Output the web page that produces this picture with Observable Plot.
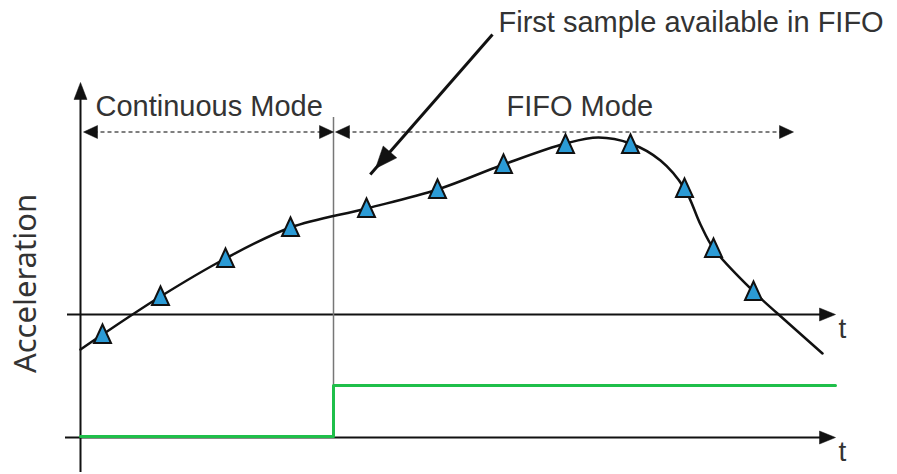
<!DOCTYPE html>
<html>
<head>
<meta charset="utf-8">
<script src="https://cdn.jsdelivr.net/npm/d3@7"></script>
<script src="https://cdn.jsdelivr.net/npm/@observablehq/plot@0.6"></script>
<style>
  html, body { margin: 0; padding: 0; background: #fff; }
  #chart svg { display: block; }
</style>
</head>
<body>
<div id="chart"></div>
<script>
// ---- Data (t: time units, a: acceleration units; t-axis at a = 0) ----
const sampleT = [2.2, 8.0, 14.5, 21.0, 28.6, 35.7, 42.3, 48.5, 55.0, 60.4, 63.3, 67.3];
const sampleA = [-2.2, 1.6, 5.4, 8.5, 10.4, 12.3, 14.8, 16.8, 16.8, 12.4, 6.4, 2.1];

const curveT = [0, 2.2, 8.0, 14.5, 21.0, 28.6, 35.7, 42.3, 48.5, 51.8, 55.0, 58.0, 60.4, 62.0, 63.3, 67.3, 69.7, 74.2];
const curveA = [-3.5, -2.0, 1.8, 5.6, 8.7, 10.6, 12.5, 15.0, 17.1, 17.7, 17.1, 15.4, 12.6, 9.0, 6.6, 2.3, 0.1, -3.9];

// FIFO-mode signal (step)
const modeSignalT = [0, 25.3, 75.5];
const modeSignalA = [-12.2, -7.1, -7.1];

const modeNames = ["Continuous Mode", "FIFO Mode"];
const modeStart = [0.3, 25.5];
const modeEnd = [25.3, 71.3];
const modeLabelT = [1.5, 42.6];
const modeLabelA = 19.85;
const modeArrowA = 18.25;

const switchT = 25.3;
const axisA = 0;
const lowerAxisA = -12.3;
const axisEndT = 75.5;
const yAxisTop = 23.2;
const yAxisBottom = -15.8;

const noteText = "First sample available in FIFO";
const noteFrom = {t: 41.2, a: 28.0};
const noteTo = {t: 29.5, a: 14.6};

// ---- helpers ----
const zip = (ts, as) => ts.map((t, i) => ({t, a: as[i]}));
const samples = zip(sampleT, sampleA);
const curve = zip(curveT, curveA);
const signal = zip(modeSignalT, modeSignalA);

function head(angleDeg, len, hw) {
  const r = angleDeg * Math.PI / 180, c = Math.cos(r), s = Math.sin(r);
  const pt = (u, v) => [u * c - v * s, u * s + v * c];
  return {
    draw(ctx) {
      const p1 = pt(-len, -hw), p2 = pt(-len, hw);
      ctx.moveTo(0, 0); ctx.lineTo(p1[0], p1[1]); ctx.lineTo(p2[0], p2[1]); ctx.closePath();
    }
  };
}
const tri = {draw(ctx) { ctx.moveTo(0, -12); ctx.lineTo(8.5, 6.5); ctx.lineTo(-8.5, 6.5); ctx.closePath(); }};

// equal px per unit on both axes, so data angle == screen angle
const noteAngle = Math.atan2(-(noteTo.a - noteFrom.a), noteTo.t - noteFrom.t) * 180 / Math.PI;

const font = "Liberation Sans, Arial, sans-serif";
const ink = "#333";

const chart = Plot.plot({
  width: 897,
  height: 474,
  margin: 0,
  x: {domain: [-8, 81.7], axis: null},
  y: {domain: [-16, 31.4], axis: null},
  style: {background: "#fff", overflow: "visible"},
  marks: [
    // axes
    Plot.ruleX([0], {y1: yAxisBottom, y2: yAxisTop - 1, stroke: "#111", strokeWidth: 2}),
    Plot.ruleY([axisA], {x1: -1.3, x2: axisEndT - 1, stroke: "#111", strokeWidth: 2}),
    Plot.ruleY([lowerAxisA], {x1: -1.5, x2: axisEndT - 1, stroke: "#111", strokeWidth: 2}),
    Plot.dot([{t: 0, a: yAxisTop}], {x: "t", y: "a", symbol: head(-90, 17, 6.5), fill: "#111", stroke: "#111", strokeWidth: 0.5}),
    Plot.dot([{t: axisEndT, a: axisA}, {t: axisEndT, a: lowerAxisA}], {x: "t", y: "a", symbol: head(0, 16, 6.5), fill: "#111", stroke: "#111", strokeWidth: 0.5}),
    Plot.text([{t: 75.8, a: -2.3}, {t: 75.8, a: -14.6}], {x: "t", y: "a", text: () => "t", textAnchor: "start", lineAnchor: "bottom", fontSize: 28, fontFamily: font, fill: ink}),

    // mode divider
    Plot.ruleX([switchT], {y1: lowerAxisA, y2: 19.7, stroke: "#777", strokeWidth: 1.5}),

    // mode spans (dashed double arrows)
    Plot.link(modeNames, {x1: (d, i) => modeStart[i] + 1, x2: (d, i) => modeEnd[i] - 1, y1: modeArrowA, y2: modeArrowA, stroke: "#555", strokeWidth: 1.5, strokeDasharray: "4,3"}),
    Plot.dot(modeNames, {x: (d, i) => modeStart[i], y: modeArrowA, symbol: head(180, 14, 6.5), fill: "#111", stroke: "#111", strokeWidth: 0.5}),
    Plot.dot(modeNames, {x: (d, i) => modeEnd[i], y: modeArrowA, symbol: head(0, 14, 6.5), fill: "#111", stroke: "#111", strokeWidth: 0.5}),
    Plot.text(modeNames, {x: (d, i) => modeLabelT[i], y: modeLabelA, text: d => d, textAnchor: "start", lineAnchor: "bottom", fontSize: 29, fontFamily: font, fill: ink}),

    // mode signal
    Plot.line(signal, {x: "t", y: "a", curve: "step-after", stroke: "#1fbf4a", strokeWidth: 3}),

    // acceleration curve and samples
    Plot.line(curve, {x: "t", y: "a", curve: "catmull-rom", stroke: "#111", strokeWidth: 2.5}),
    Plot.dot(samples, {x: "t", y: "a", symbol: tri, fill: "#2b9bd6", stroke: "#111", strokeWidth: 2, strokeLinejoin: "miter"}),

    // annotation
    Plot.link([noteFrom], {x1: "t", y1: "a", x2: () => noteTo.t + 0.8 * Math.cos(noteAngle * Math.PI / 180), y2: () => noteTo.a - 0.8 * Math.sin(noteAngle * Math.PI / 180), stroke: "#111", strokeWidth: 3}),
    Plot.dot([noteTo], {x: "t", y: "a", symbol: head(noteAngle, 22, 9), fill: "#111", stroke: "#111", strokeWidth: 0.5}),
    Plot.text([noteText], {x: 41.8, y: 28.3, text: d => d, textAnchor: "start", lineAnchor: "bottom", fontSize: 29, fontFamily: font, fill: ink}),

    // y label
    Plot.text(["Acceleration"], {x: -4.5, y: 3.1, text: d => d, rotate: -90, textAnchor: "middle", lineAnchor: "bottom", fontSize: 31, fontFamily: "Noto Sans, Open Sans, sans-serif", fill: ink})
  ]
});
document.getElementById("chart").appendChild(chart);
</script>
</body>
</html>
